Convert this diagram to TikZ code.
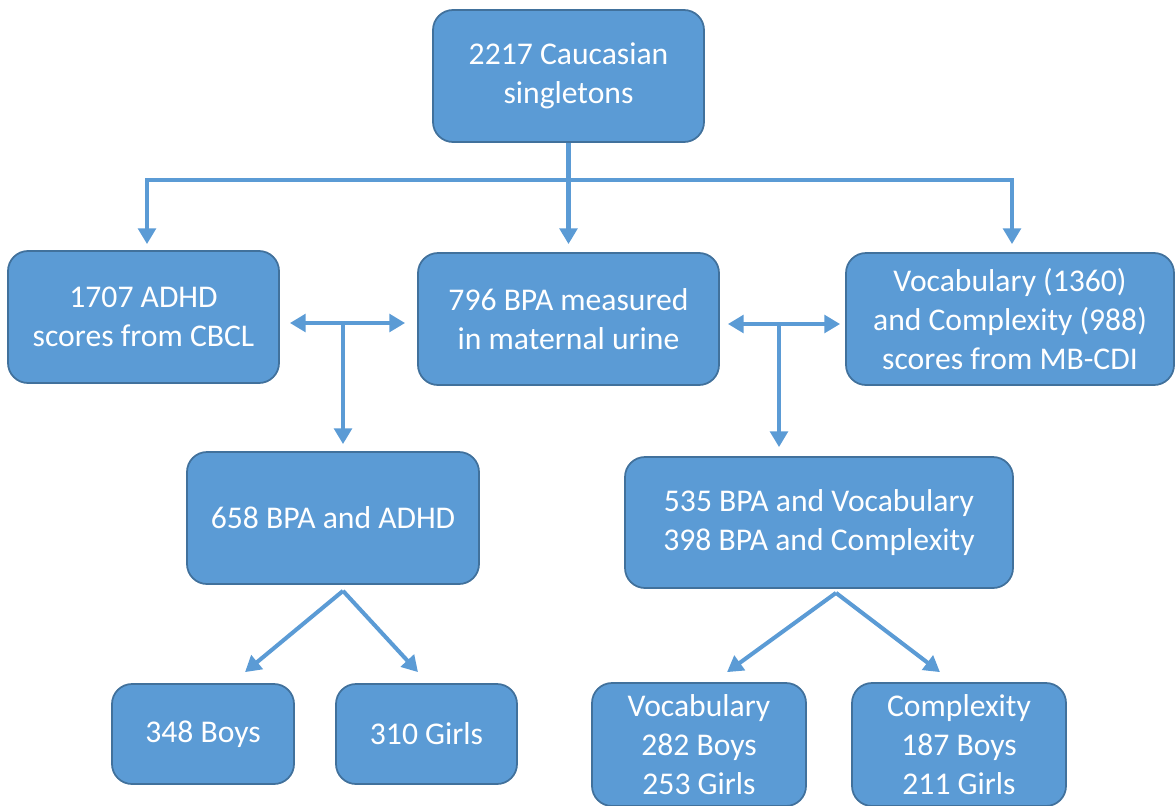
\documentclass[tikz,border=0pt]{standalone}
\usepackage{fontspec}
\setmainfont{Carlito}
\usetikzlibrary{arrows.meta}
\definecolor{boxblue}{HTML}{5B9BD5}
\definecolor{boxedge}{HTML}{41719C}

\begin{document}
\begin{tikzpicture}[
    box/.style={draw=boxedge, line width=1pt, fill=boxblue, rounded corners=0.4cm,
      text=white, align=center, inner sep=0pt, font=\fontsize{18}{22}\selectfont},
    link/.style={draw=boxblue, line width=2.3pt, -{Triangle[width=10pt,length=9pt]}},
    both/.style={link, {Triangle[width=10pt,length=9pt]}-{Triangle[width=10pt,length=9pt]}}]
    \useasboundingbox (0,0) rectangle (23.5,-16.1);

    \node[box, minimum width=5.42cm, minimum height=2.64cm] (top) at (11.37,-1.52) {2217 Caucasian\\singletons};

    \node[box, minimum width=5.42cm, minimum height=2.64cm] (adhd) at (2.87,-6.34) {1707 ADHD\\scores from CBCL};
    \node[box, minimum width=6.02cm, minimum height=2.64cm] (bpa) at (11.37,-6.38) {796 BPA measured\\in maternal urine};
    \node[box, minimum width=6.56cm, minimum height=2.64cm] (cdi) at (20.2,-6.38) {Vocabulary (1360)\\and Complexity (988)\\scores from MB-CDI};

    \node[box, minimum width=5.84cm, minimum height=2.64cm] (adhdbpa) at (6.66,-10.36) {658 BPA and ADHD};
    \node[box, minimum width=7.76cm, minimum height=2.62cm] (cdibpa) at (16.38,-10.45) {535 BPA and Vocabulary\\398 BPA and Complexity};

    \node[box, minimum width=3.64cm, minimum height=2cm] (boys) at (4.06,-14.68) {348 Boys};
    \node[box, minimum width=3.62cm, minimum height=2cm] (girls) at (8.53,-14.68) {310 Girls};
    \node[box, minimum width=4.28cm, minimum height=2.46cm] (vocsex) at (13.98,-14.89) {Vocabulary\\282 Boys\\253 Girls};
    \node[box, minimum width=4.28cm, minimum height=2.46cm] (cpxsex) at (19.18,-14.89) {Complexity\\187 Boys\\211 Girls};

    % split below the cohort
    \coordinate (split) at (11.37,-3.6);
    \draw[link, shorten >=0.16cm] (top) -- (bpa);
    \draw[link, shorten >=0.12cm] (split) -| ([xshift=0.07cm]adhd.north);
    \draw[link, shorten >=0.16cm] (split) -| ([xshift=0.04cm]cdi.north);

    % links between the measures
    \coordinate (jl) at (6.86,-6.46);
    \coordinate (jr) at (15.58,-6.48);
    \draw[both, shorten <=0.2cm, shorten >=0.24cm] (adhd.east |- jl) -- (bpa.west |- jl);
    \draw[both, shorten <=0.16cm, shorten >=0.1cm] (bpa.east |- jr) -- (cdi.west |- jr);
    \draw[link, shorten >=0.14cm] (jl) -- (jl |- adhdbpa.north);
    \draw[link, shorten >=0.18cm] (jr) -- (jr |- cdibpa.north);

    % split by sex
    \draw[link] ([xshift=0.2cm,yshift=-0.12cm]adhdbpa.south) -- ([xshift=0.84cm,yshift=0.22cm]boys.north);
    \draw[link] ([xshift=0.2cm,yshift=-0.12cm]adhdbpa.south) -- ([xshift=-0.17cm,yshift=0.22cm]girls.north);
    \draw[link] ([xshift=0.34cm,yshift=-0.08cm]cdibpa.south) -- ([xshift=0.56cm,yshift=0.2cm]vocsex.north);
    \draw[link] ([xshift=0.34cm,yshift=-0.08cm]cdibpa.south) -- ([xshift=-0.38cm,yshift=0.2cm]cpxsex.north);
\end{tikzpicture}
\end{document}
